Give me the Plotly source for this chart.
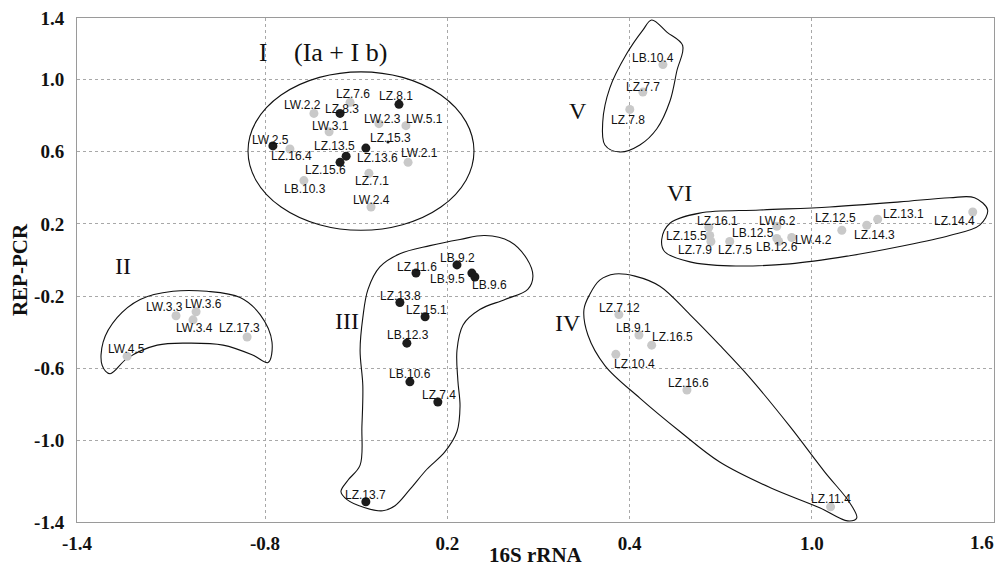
import plotly.graph_objects as go

# ---------------- data (16S rRNA vs REP-PCR coordinates) ----------------
black_names = ["LZ.8.1", "LZ.8.3", "LW.2.5", "LZ.13.6", "LZ.13.5", "LZ.15.6",
               "LB.9.2", "LZ.11.6", "LB.9.5", "LB.9.6", "LZ.13.8", "LZ.15.1",
               "LB.12.3", "LB.10.6", "LZ.7.4", "LZ.13.7"]
black_x = [-0.359, -0.553, -0.774, -0.468, -0.533, -0.553,
           -0.168, -0.303, -0.119, -0.109, -0.356, -0.273,
           -0.333, -0.323, -0.231, -0.468]
black_y = [0.862, 0.812, 0.632, 0.620, 0.575, 0.541,
           -0.027, -0.072, -0.072, -0.094, -0.235, -0.314,
           -0.460, -0.674, -0.786, -1.338]

gray_names = ["LZ.7.6", "LW.2.2", "LW.2.3", "LW.5.1", "LW.3.1", "LZ.16.4",
              "LW.2.1", "LZ.7.1", "LB.10.3", "LW.2.4",
              "LW.3.3", "LW.3.6", "LW.3.4", "LZ.17.3", "LW.4.5",
              "LZ.7.12", "LB.9.1", "LZ.16.5", "LZ.10.4", "LZ.16.6", "LZ.11.4",
              "LB.10.4", "LZ.7.7", "LZ.7.8",
              "LZ.16.1", "LZ.15.5", "LZ.7.9", "LZ.7.5", "LW.6.2", "LB.12.5",
              "LB.12.6", "LW.4.2", "LZ.12.5", "LZ.14.3", "LZ.13.1", "LZ.14.4"]
gray_x = [-0.520, -0.639, -0.425, -0.336, -0.589, -0.718,
          -0.329, -0.458, -0.672, -0.451,
          -1.093, -1.027, -1.037, -0.859, -1.254,
          0.365, 0.431, 0.473, 0.355, 0.589, 1.062,
          0.510, 0.444, 0.401,
          0.661, 0.664, 0.668, 0.730, 0.885, 0.885,
          0.891, 0.934, 1.099, 1.181, 1.217, 1.530]
gray_y = [0.873, 0.812, 0.755, 0.744, 0.710, 0.615,
          0.541, 0.480, 0.440, 0.294,
          -0.308, -0.286, -0.331, -0.426, -0.533,
          -0.302, -0.415, -0.471, -0.522, -0.719, -1.366,
          1.082, 0.930, 0.834,
          0.181, 0.136, 0.103, 0.103, 0.187, 0.120,
          0.103, 0.125, 0.165, 0.193, 0.226, 0.266]

small_names = ["LZ.15.3"]
small_x = [-0.395]
small_y = [0.654]

# axis ticks
x_tickvals = [-1.419, -0.8, -0.2, 0.4, 1.0, 1.6]
x_ticktext = ["-1.4", "-0.8", "0.2", "0.4", "1.0", ""]
x_last_label = "1.6"
x_title = "16S rRNA"
y_tickvals = [-1.45, -1.0, -0.6, -0.2, 0.2, 0.6, 1.0, 1.34]
y_ticktext = ["-1.4", "-1.0", "-0.6", "-0.2", "0.2", "0.6", "1.0", "1.4"]

# cluster outlines
ellipse_I = dict(x0=-0.856, x1=-0.112, y0=0.165, y1=1.042)
outline_II_x = [-1.336, -1.333, -1.287, -1.211, -1.103, -0.991, -0.882, -0.816, -0.777,
                -0.790, -0.839, -0.938, -1.047, -1.155, -1.254, -1.310, -1.336]
outline_II_y = [-0.584, -0.454, -0.319, -0.218, -0.173, -0.173, -0.207, -0.302, -0.454,
                -0.567, -0.527, -0.471, -0.460, -0.471, -0.544, -0.629, -0.584]
outline_III_x = [-0.478, -0.461, -0.422, -0.356, -0.257, -0.158, -0.076, 0.006, 0.062, 0.082,
                 0.065, -0.010, -0.093, -0.148, -0.168, -0.165, -0.158, -0.168, -0.208,
                 -0.267, -0.323, -0.372, -0.412, -0.471, -0.530, -0.550, -0.527, -0.487,
                 -0.481, -0.478, -0.487, -0.478]
outline_III_y = [-0.319, -0.162, -0.038, 0.035, 0.080, 0.114, 0.136, 0.103, 0.007, -0.089,
                 -0.162, -0.218, -0.274, -0.359, -0.499, -0.668, -0.809, -0.949, -1.062,
                 -1.158, -1.270, -1.360, -1.388, -1.371, -1.326, -1.281, -1.219, -1.135,
                 -0.921, -0.696, -0.499, -0.319]
outline_IV_x = [0.269, 0.302, 0.352, 0.418, 0.500, 0.599, 0.697, 0.796, 0.928, 1.043, 1.125,
                1.148, 1.118, 1.026, 0.862, 0.697, 0.566, 0.434, 0.319, 0.263, 0.250, 0.269]
outline_IV_y = [-0.190, -0.111, -0.077, -0.089, -0.145, -0.302, -0.471, -0.651, -0.921,
                -1.174, -1.343, -1.428, -1.444, -1.371, -1.259, -1.118, -0.949, -0.764,
                -0.584, -0.415, -0.274, -0.190]
outline_V_x = [0.473, 0.523, 0.575, 0.556, 0.533, 0.490, 0.434, 0.368, 0.319, 0.312,
               0.335, 0.391, 0.444, 0.473]
outline_V_y = [1.329, 1.262, 1.188, 1.048, 0.879, 0.727, 0.637, 0.598, 0.637, 0.767,
               0.952, 1.143, 1.273, 1.329]
outline_VI_x = [0.506, 0.533, 0.631, 0.829, 1.059, 1.290, 1.454, 1.536, 1.579, 1.553,
                1.454, 1.290, 1.125, 0.928, 0.730, 0.599, 0.516, 0.506]
outline_VI_y = [0.114, 0.204, 0.260, 0.277, 0.294, 0.322, 0.345, 0.345, 0.277, 0.193,
                0.136, 0.075, 0.024, -0.021, -0.032, -0.010, 0.046, 0.114]

cluster_labels = ["I", "(Ia + I b)", "II", "III", "IV", "V", "VI"]
cluster_label_x = [-0.807, -0.553, -1.267, -0.530, 0.197, 0.230, 0.566]
cluster_label_y = [1.149, 1.149, -0.032, -0.336, -0.347, 0.823, 0.373]
cluster_label_sizes = [25, 26, 24, 24, 24, 24, 24]

# label offsets in pixels (dx, dy screen; dy positive = down)
label_offsets = {
    "LZ.7.6": (3, -8), "LZ.8.1": (-3, -8), "LW.2.2": (-11, -8), "LZ.8.3": (2, -4),
    "LW.2.3": (4, -5), "LW.5.1": (19, -7), "LW.3.1": (1, -6), "LW.2.5": (-2, -6),
    "LZ.16.4": (2, 7), "LZ.15.3": (2, -4), "LZ.13.5": (-12, -10), "LZ.13.6": (12, 10),
    "LZ.15.6": (-15, 8), "LW.2.1": (11, -9), "LZ.7.1": (3, 8), "LB.10.3": (1, 8),
    "LW.2.4": (0, -7),
    "LB.9.2": (1, -7), "LZ.11.6": (1, -6), "LB.9.5": (-24, 6), "LB.9.6": (15, 8),
    "LZ.13.8": (1, -7), "LZ.15.1": (1, -7), "LB.12.3": (1, -8), "LB.10.6": (0, -8),
    "LZ.7.4": (1, -7), "LZ.13.7": (0, -7),
    "LW.3.3": (-12, -9), "LW.3.6": (7, -8), "LW.3.4": (1, 8), "LZ.17.3": (-8, -9),
    "LW.4.5": (-1, -7),
    "LZ.7.12": (1, -7), "LB.9.1": (-5, -7), "LZ.16.5": (21, -8), "LZ.10.4": (19, 10),
    "LZ.16.6": (2, -7), "LZ.11.4": (0, -8),
    "LB.10.4": (-10, -7), "LZ.7.7": (0, -5), "LZ.7.8": (-2, 11),
    "LZ.16.1": (9, -6), "LZ.15.5": (-23, 0), "LZ.7.9": (-16, 9), "LZ.7.5": (5, 9),
    "LW.6.2": (1, -5), "LB.12.5": (-24, -5), "LB.12.6": (-2, 6), "LW.4.2": (22, 3),
    "LZ.12.5": (-6, -12), "LZ.14.3": (8, 10), "LZ.13.1": (26, -5), "LZ.14.4": (-18, 9),
}

# ---------------- figure ----------------
fig = go.Figure()

outline_style = dict(mode="lines", line=dict(color="#111111", width=1.1, shape="spline", smoothing=1.0),
                     hoverinfo="skip", showlegend=False)
for ox, oy in [(outline_II_x, outline_II_y), (outline_III_x, outline_III_y),
               (outline_IV_x, outline_IV_y), (outline_V_x, outline_V_y),
               (outline_VI_x, outline_VI_y)]:
    fig.add_trace(go.Scatter(x=ox, y=oy, **outline_style))

fig.add_shape(type="circle", xref="x", yref="y", line=dict(color="#111111", width=1.1),
              **ellipse_I)

fig.add_trace(go.Scatter(x=gray_x, y=gray_y, mode="markers", text=gray_names,
                         marker=dict(color="#c9c9c9", size=9), showlegend=False))
fig.add_trace(go.Scatter(x=black_x, y=black_y, mode="markers", text=black_names,
                         marker=dict(color="#1c1c1c", size=9), showlegend=False))
fig.add_trace(go.Scatter(x=small_x, y=small_y, mode="markers", text=small_names,
                         marker=dict(color="#1c1c1c", size=3), showlegend=False))

annotations = []
for names, xs, ys in [(gray_names, gray_x, gray_y), (black_names, black_x, black_y),
                      (small_names, small_x, small_y)]:
    for n, xv, yv in zip(names, xs, ys):
        dx, dy = label_offsets.get(n, (0, -7))
        annotations.append(dict(x=xv, y=yv, text=n, showarrow=False, xshift=dx, yshift=-dy,
                                font=dict(family="Liberation Sans, Arial", size=12, color="#111111")))

for t, xv, yv, sz in zip(cluster_labels, cluster_label_x, cluster_label_y, cluster_label_sizes):
    annotations.append(dict(x=xv, y=yv, text=t, showarrow=False,
                            font=dict(family="Liberation Serif, Times New Roman", size=sz,
                                      color="#111111")))

# last x tick label kept inside the page
annotations.append(dict(x=x_tickvals[-1], xref="x", y=0, yref="paper", text="<b>%s</b>" % x_last_label,
                        showarrow=False, xanchor="center", yanchor="middle", xshift=-12, yshift=-20,
                        font=dict(family="Liberation Serif", size=19, color="#111111")))
# x axis title
annotations.append(dict(x=0.5, xref="paper", y=0, yref="paper", text="<b>%s</b>" % x_title,
                        showarrow=False, xanchor="center", yanchor="middle", yshift=-33,
                        font=dict(family="Liberation Serif", size=21, color="#111111")))

# page body has an 8px margin, so the figure is 8px smaller than the window on each axis
fig.update_layout(
    width=995, height=558,
    margin=dict(l=69, r=9, t=10, b=44, autoexpand=False),
    paper_bgcolor="white", plot_bgcolor="white",
    annotations=annotations,
    font=dict(family="Liberation Serif, Times New Roman", color="#111111"),
)
fig.update_xaxes(range=[-1.419, 1.6], tickvals=x_tickvals, ticktext=x_ticktext,
                 automargin=False,
                 showgrid=True, gridcolor="#a8a8a8", griddash="dot", gridwidth=1,
                 zeroline=False, showline=True, linecolor="#9a9a9a", linewidth=1, mirror=True,
                 ticks="outside", ticklen=4, tickcolor="rgba(0,0,0,0)",
                 tickfont=dict(family="Liberation Serif", size=19, color="#111111", weight="bold"))
fig.update_yaxes(range=[-1.45, 1.34], tickvals=y_tickvals, ticktext=y_ticktext,
                 automargin=False, ticklabeloverflow="allow",
                 showgrid=True, gridcolor="#a8a8a8", griddash="dot", gridwidth=1,
                 zeroline=False, showline=True, linecolor="#9a9a9a", linewidth=1, mirror=True,
                 ticks="outside", ticklen=8, tickcolor="rgba(0,0,0,0)",
                 tickfont=dict(family="Liberation Serif", size=19, color="#111111", weight="bold"),
                 title=dict(text="<b>REP-PCR</b>", font=dict(family="Liberation Serif", size=21),
                            standoff=6))

fig.write_html("out.html")
